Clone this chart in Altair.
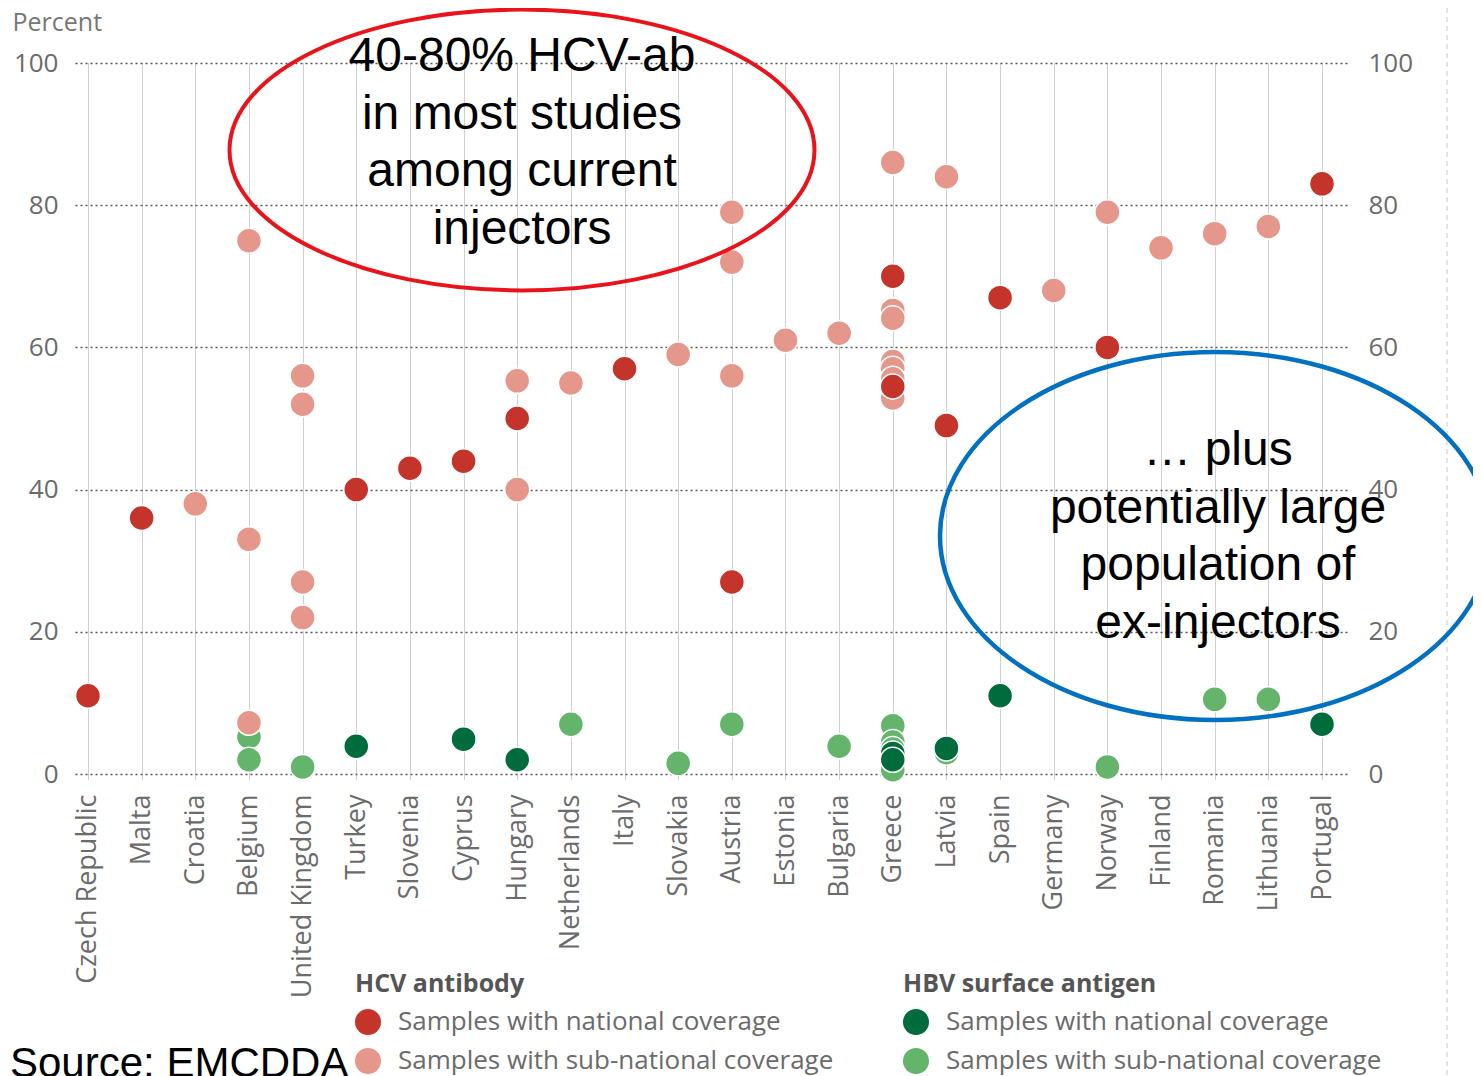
import altair as alt
import pandas as pd

countries = ["Czech Republic", "Malta", "Croatia", "Belgium", "United Kingdom", "Turkey",
             "Slovenia", "Cyprus", "Hungary", "Netherlands", "Italy", "Slovakia", "Austria",
             "Estonia", "Bulgaria", "Greece", "Latvia", "Spain", "Germany", "Norway",
             "Finland", "Romania", "Lithuania", "Portugal"]

# HCV antibody, national coverage
hcv_nat_country = ["Czech Republic", "Malta", "Turkey", "Slovenia", "Cyprus", "Hungary", "Italy",
                   "Austria", "Greece", "Greece", "Latvia", "Spain", "Norway", "Portugal"]
hcv_nat_value = [11, 36, 40, 43, 44, 50, 57, 27, 70, 54.5, 49, 67, 60, 83]

# HCV antibody, sub-national coverage
hcv_sub_country = ["Croatia", "Belgium", "Belgium", "Belgium", "United Kingdom", "United Kingdom",
                   "United Kingdom", "United Kingdom", "Hungary", "Hungary", "Netherlands",
                   "Slovakia", "Austria", "Austria", "Austria", "Estonia", "Bulgaria",
                   "Greece", "Greece", "Greece", "Greece", "Greece", "Greece", "Greece",
                   "Latvia", "Germany", "Norway", "Finland", "Romania", "Lithuania"]
hcv_sub_value = [38, 75, 33, 7.2, 56, 52, 27, 22, 55.3, 40, 55, 59, 79, 72, 56, 61, 62,
                 86, 65.2, 64.1, 58, 57, 55.6, 52.9, 84, 68, 79, 74, 76, 77]

# HBV surface antigen, national coverage
hbv_nat_country = ["Turkey", "Cyprus", "Hungary", "Greece", "Greece", "Latvia", "Spain", "Portugal"]
hbv_nat_value = [3.9, 4.9, 2.0, 2.9, 2.0, 3.6, 11, 7]

# HBV surface antigen, sub-national coverage
hbv_sub_country = ["Belgium", "Belgium", "United Kingdom", "Netherlands", "Slovakia", "Austria",
                   "Bulgaria", "Greece", "Greece", "Greece", "Greece", "Latvia", "Norway",
                   "Romania", "Lithuania"]
hbv_sub_value = [5.2, 2.0, 1.0, 7, 1.5, 7, 3.9, 6.8, 4.5, 3.5, 0.6, 3.0, 1.0, 10.5, 10.5]

y_ticks = [0, 20, 40, 60, 80, 100]
lab_nat = "Samples with national coverage"
lab_sub = "Samples with sub-national coverage"
legend_titles = ["HCV antibody", "HBV surface antigen"]
red_note = ["40-80% HCV-ab", "in most studies", "among current", "injectors"]
blue_note = ["\u2026 plus", "potentially large", "population of", "ex-injectors"]
source_note = "Source: EMCDDA"

FONT = "Open Sans"
GRAY = "#6b6b6b"

hcv = pd.DataFrame({
    "country": hcv_sub_country + hcv_nat_country,
    "value": hcv_sub_value + hcv_nat_value,
    "coverage": [lab_sub] * len(hcv_sub_value) + [lab_nat] * len(hcv_nat_value),
})
hbv = pd.DataFrame({
    "country": hbv_sub_country + hbv_nat_country,
    "value": hbv_sub_value + hbv_nat_value,
    "coverage": [lab_sub] * len(hbv_sub_value) + [lab_nat] * len(hbv_nat_value),
})

x_enc = alt.X("country:N", sort=countries, title=None,
              scale=alt.Scale(domain=countries, padding=0.382, align=0.317),
              axis=alt.Axis(labelAngle=-90, labelFont=FONT, labelFontSize=27, labelColor=GRAY,
                            labelPadding=14, labelLimit=400, tickSize=6, tickColor="#a0a0a0",
                            tickDash=[1, 1], grid=True, gridColor="#a0a0a0", gridDash=[1, 1],
                            gridWidth=1, domain=False))
y_scale = alt.Scale(domain=[0, 100], nice=False)

def legend(title, lx):
    return alt.Legend(title=title, orient="none", legendX=lx, legendY=909,
                      titleFont=FONT, titleFontSize=25, titleFontWeight="bold", titleColor="#555555",
                      titlePadding=12, titleLimit=600, labelFont=FONT, labelFontSize=26,
                      labelColor=GRAY, labelOffset=17, symbolType="circle", symbolSize=676,
                      symbolStrokeWidth=0, symbolOpacity=1, rowPadding=13, padding=0, labelLimit=600)

hbv_layer = alt.Chart(hbv).mark_circle(size=625, opacity=1, stroke="white", strokeWidth=1.5).encode(
    x=x_enc,
    y=alt.Y("value:Q", scale=y_scale,
            axis=alt.Axis(values=y_ticks, orient="left", labelFont=FONT, labelFontSize=26,
                          labelColor=GRAY, labelPadding=17, ticks=False, domain=False,
                          grid=True, gridColor="#555555", gridDash=[2, 3], gridWidth=1.3,
                          title="Percent", titleAngle=0, titleAlign="left", titleBaseline="middle",
                          titleX=-63, titleY=-41, titleFont=FONT, titleFontSize=25,
                          titleFontWeight="normal", titleColor="#777777")),
    color=alt.Color("coverage:N", scale=alt.Scale(domain=[lab_nat, lab_sub], range=["#006B3C", "#64B46C"]),
                    legend=legend(legend_titles[1], 828)),
)

hcv_layer = alt.Chart(hcv).mark_circle(size=625, opacity=1, stroke="white", strokeWidth=1.5).encode(
    x=x_enc,
    y=alt.Y("value:Q", scale=y_scale, axis=None),
    color=alt.Color("coverage:N", scale=alt.Scale(domain=[lab_nat, lab_sub], range=["#C4342A", "#E5978C"]),
                    legend=legend(legend_titles[0], 280)),
)

right_axis = alt.Chart(hcv).mark_point(opacity=0).encode(
    x=x_enc,
    y=alt.Y("value:Q", scale=y_scale,
            axis=alt.Axis(values=y_ticks, orient="right", labelFont=FONT, labelFontSize=26,
                          labelColor=GRAY, labelPadding=18, ticks=False, domain=False, grid=False,
                          title=None)),
)

one = pd.DataFrame({"k": [0]})
k = 0.5523
def ellipse_path(r):
    return (f"M 1 0 C 1 {k*r:.4f} {k:.4f} {r} 0 {r} C {-k:.4f} {r} -1 {k*r:.4f} -1 0 "
            f"C -1 {-k*r:.4f} {-k:.4f} {-r} 0 {-r} C {k:.4f} {-r} 1 {-k*r:.4f} 1 0 Z")

red_ell = alt.Chart(one).mark_point(shape=ellipse_path(0.48), filled=False, stroke="#E8131B",
                                    strokeWidth=4, opacity=1, size=585 ** 2).encode(
    x=alt.value(447), y=alt.value(87))
blue_ell = alt.Chart(one).mark_point(shape=ellipse_path(0.669), filled=False, stroke="#0070C0",
                                     strokeWidth=4.5, opacity=1, size=550 ** 2).encode(
    x=alt.value(1140), y=alt.value(473))

red_txt = alt.Chart(one).mark_text(font="Liberation Sans", fontSize=48, color="black",
                                   align="center", baseline="middle", lineHeight=57.5).encode(
    x=alt.value(447), y=alt.value(-6), text=alt.value(red_note))
blue_txt = alt.Chart(one).mark_text(font="Liberation Sans", fontSize=48, color="black",
                                    align="center", baseline="middle", lineHeight=57.7).encode(
    x=alt.value(1143), y=alt.value(388), text=alt.value(blue_note))
src_txt = alt.Chart(one).mark_text(font="Liberation Sans", fontSize=42, color="black",
                                   align="left", baseline="alphabetic").encode(
    x=alt.value(-65), y=alt.value(1014), text=alt.value(source_note))

guide = alt.Chart(one).mark_rule(color="#c9c9d2", strokeDash=[5, 4], strokeWidth=1).encode(
    x=alt.value(1372), y=alt.value(-55), y2=alt.value(1013))

chart = alt.layer(hbv_layer, hcv_layer, right_axis, guide, red_ell, blue_ell, red_txt, blue_txt, src_txt
).resolve_scale(color="independent").resolve_axis(y="independent").properties(
    width=1275, height=711,
    autosize=alt.AutoSizeParams(type="none"),
    padding={"left": 67, "top": 55, "right": 123, "bottom": 302},
).configure_view(stroke=None)

chart.save("out.html", embed_options={"renderer": "svg", "actions": False})
